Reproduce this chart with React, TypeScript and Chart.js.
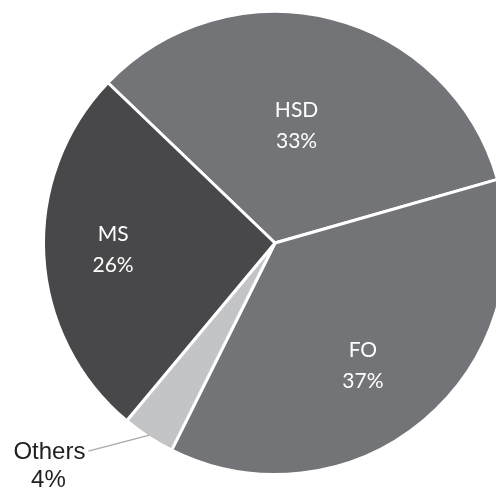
import React, { useRef, useEffect } from 'react';
import { Chart, registerables } from 'chart.js';

Chart.register(...registerables);

const CATEGORIES = ['HSD', 'FO', 'Others', 'MS'];
const SHARES = [33.4, 36.8, 3.7, 26.1];
const COLORS = ['#737478', '#737478', '#c3c4c6', '#48484a'];

// where each label sits inside its slice: fraction of sweep, fraction of radius
const LABEL_ANGLE_FRAC = [0.47, 0.53, 0.5, 0.51];
const LABEL_RADIUS_FRAC = [0.52, 0.65, 0, 0.7];

const pieLabels = {
  id: 'pieLabels',
  afterDatasetsDraw(chart: Chart) {
    const ctx = chart.ctx;
    const meta = chart.getDatasetMeta(0);
    ctx.save();
    meta.data.forEach((el: any, i: number) => {
      const { x, y, startAngle, endAngle, outerRadius } = el.getProps(
        ['x', 'y', 'startAngle', 'endAngle', 'outerRadius'],
        true,
      );
      const pct = Math.round(SHARES[i]) + '%';
      if (CATEGORIES[i] === 'Others') {
        const mid = (startAngle + endAngle) / 2;
        const ex = x + Math.cos(mid) * (outerRadius - 2);
        const ey = y + Math.sin(mid) * (outerRadius - 2);
        const lx = ex - 61;
        const ly = ey + 16;
        ctx.strokeStyle = '#a9a9a9';
        ctx.lineWidth = 1.2;
        ctx.beginPath();
        ctx.moveTo(ex, ey);
        ctx.lineTo(lx, ly);
        ctx.stroke();
        ctx.fillStyle = '#222222';
        ctx.font = '24px "Liberation Sans", Arial, sans-serif';
        ctx.textAlign = 'center';
        ctx.textBaseline = 'alphabetic';
        const w = ctx.measureText(CATEGORIES[i]).width;
        const cx = lx - w / 2 - 3;
        ctx.fillText(CATEGORIES[i], cx, ly + 8);
        ctx.fillText(pct, cx - 1, ly + 36);
        return;
      }
      const a = startAngle + (endAngle - startAngle) * LABEL_ANGLE_FRAC[i];
      const r = outerRadius * LABEL_RADIUS_FRAC[i];
      const px = x + Math.cos(a) * r;
      const py = y + Math.sin(a) * r;
      ctx.fillStyle = '#ffffff';
      ctx.font = '21px Lato, sans-serif';
      ctx.textAlign = 'center';
      ctx.textBaseline = 'alphabetic';
      ctx.fillText(CATEGORIES[i], px, py - 8);
      ctx.fillText(pct, px, py + 23);
    });
    ctx.restore();
  },
};

const ShareChart: React.FC = () => {
  const canvasRef = useRef<HTMLCanvasElement>(null);

  useEffect(() => {
    if (!canvasRef.current) return;
    const chart = new Chart(canvasRef.current, {
      type: 'pie',
      data: {
        labels: CATEGORIES,
        datasets: [{
          data: SHARES,
          backgroundColor: COLORS,
          borderColor: '#ffffff',
          borderWidth: 3,
        }],
      },
      options: {
        responsive: true,
        maintainAspectRatio: false,
        animation: false,
        rotation: -46.2,
        layout: { padding: { top: 10, bottom: 12, left: 42, right: 42 } },
        plugins: {
          legend: { display: false },
          tooltip: { enabled: false },
        },
      },
      plugins: [pieLabels],
    });
    return () => { chart.destroy(); };
  }, []);

  return (
    <div style={{ position: 'fixed', left: 0, top: 0, width: 496, height: 488, overflow: 'hidden', background: '#fff' }}>
      <div style={{ position: 'absolute', left: 0, top: 0, width: 550, height: 488 }}>
        <canvas ref={canvasRef} />
      </div>
    </div>
  );
};

export default function App() {
  return <ShareChart />;
}
